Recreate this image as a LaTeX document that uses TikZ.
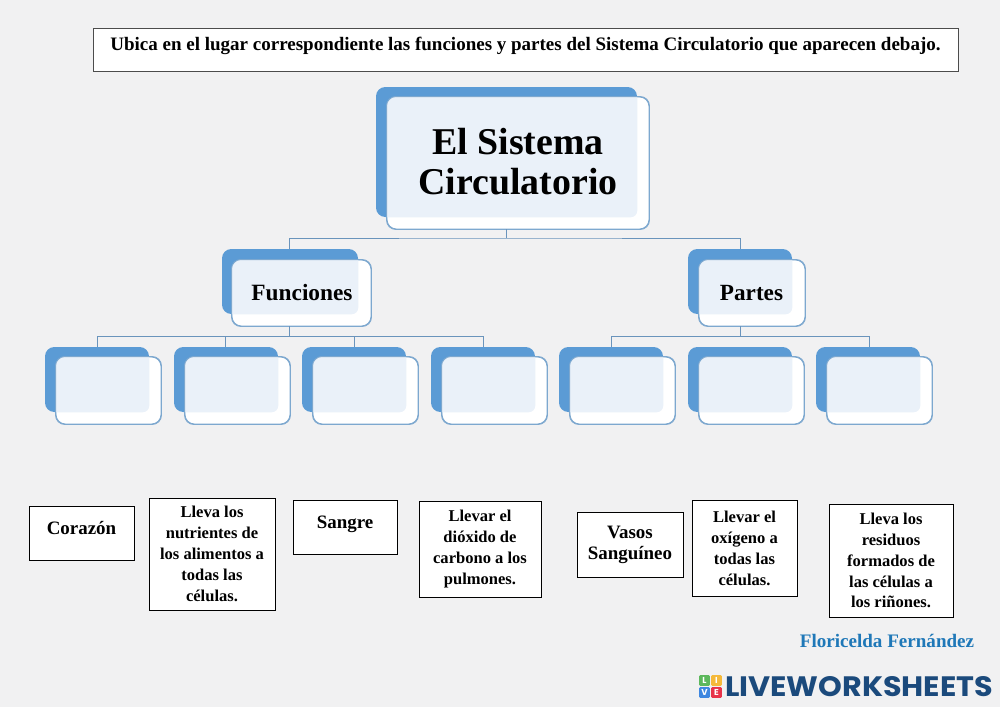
\documentclass[tikz,border=0pt]{standalone}
\usepackage{fontspec}
\setmainfont{Liberation Serif}
\newfontfamily\logofont{Poppins}
\usetikzlibrary{calc}
\definecolor{pagebg}{HTML}{F1F1F2}
\definecolor{backblue}{HTML}{5B9BD5}
\definecolor{frontline}{HTML}{7DA8CF}
\definecolor{overlap}{HTML}{EAF1F9}
\definecolor{linkblue}{HTML}{6A94BC}
\definecolor{signblue}{HTML}{1F78B8}
\definecolor{logoblue}{HTML}{1B4A7C}
\definecolor{tilegreen}{HTML}{5DB85C}
\definecolor{tileyellow}{HTML}{F5B93A}
\definecolor{tileblue}{HTML}{3F87E0}
\definecolor{tilered}{HTML}{E8334A}
\tikzset{
  x=0.75pt,y=-0.75pt,
  backbox/.style={rectangle,rounded corners=7pt,fill=backblue,inner sep=0pt},
  frontbox/.style={rectangle,rounded corners=7pt,draw=frontline,line width=0.7pt,fill=white,inner sep=0pt},
  frontedge/.style={rounded corners=7pt,draw=frontline,line width=0.7pt},
  link/.style={draw=linkblue,line width=0.7pt},
  paperbox/.style={rectangle,draw=black,line width=0.7pt,fill=white,inner sep=0pt,align=center,font=\bfseries\fontsize{12.4pt}{15.7pt}\selectfont},
  logotile/.style={rectangle,rounded corners=1pt,inner sep=0pt,minimum size=8.2pt,text=white,font=\logofont\bfseries\fontsize{6.5pt}{6.5pt}\selectfont},
}
% name, back x0,y0,x1,y1, front x0,y0,x1,y1
\newcommand{\orgbox}[9]{%
  \node[backbox,minimum width={((#4)-(#2))*0.75pt},minimum height={((#5)-(#3))*0.75pt}] (#1b) at ({((#2)+(#4))/2},{((#3)+(#5))/2}) {};
  \node[frontbox,minimum width={((#8)-(#6))*0.75pt},minimum height={((#9)-(#7))*0.75pt}] (#1) at ({((#6)+(#8))/2},{((#7)+(#9))/2}) {};
  \begin{scope}
    \clip[rounded corners=7pt] (#1.south west) rectangle (#1.north east);
    \fill[overlap,rounded corners=5pt] (#1b.south west) rectangle (#1b.north east);
  \end{scope}
  \path[frontedge] (#1.south west) rectangle (#1.north east);
}
\newcommand{\smallorg}[2]{\orgbox{#1}{#2}{347}{#2+104}{412}{#2+11}{357}{#2+116}{424}}
\newcommand{\paperb}[6]{\node[paperbox,minimum width={((#4)-(#2))*0.75pt},minimum height={((#5)-(#3))*0.75pt}] (#1) at ({((#2)+(#4))/2},{((#3)+(#5))/2}) {#6};}
\begin{document}
\begin{tikzpicture}
\useasboundingbox[fill=pagebg] (0,0) rectangle (1000,707);
% instruction
\node[rectangle,draw=black!70,line width=0.7pt,fill=white,inner sep=0pt,minimum width={865*0.75pt},minimum height={43*0.75pt}] (instr) at (525.5,49.5) {};
\node[font=\bfseries\fontsize{14.25pt}{16pt}\selectfont,anchor=center] (instrtext) at (525.5,45.5) {Ubica en el lugar correspondiente las funciones y partes del Sistema Circulatorio que aparecen debajo.};
% connector coordinates
\coordinate (busT) at (506,238);
\coordinate (busF) at (289,336);
\coordinate (busP) at (740,336);
% connectors
\orgbox{top}{376}{87}{637}{217}{387}{97}{649}{229}
\orgbox{fun}{222}{249}{358}{314}{232}{260}{371}{326}
\orgbox{par}{688}{249}{792}{314}{699}{260}{805}{326}
\smallorg{fa}{45}
\smallorg{fb}{174}
\smallorg{fc}{302}
\smallorg{fd}{431}
\smallorg{pa}{559}
\smallorg{pb}{688}
\smallorg{pc}{816}
\path[link] (top.south -| busT) -- (busT);
\path[link] (funb.north -| busF) -- (busF |- busT) -- (busT) -- (busT -| busP) -- (parb.north -| busP);
\path[link] (fun.south -| busF) -- (busF);
\path[link] (par.south -| busP) -- (busP);
\path[link] (fab.north -| 97,0) -- (97,336) -- (483,336) -- (fdb.north -| 483,0);
\path[link] (225.5,336) -- (fbb.north -| 225.5,0);
\path[link] (354,336) -- (fcb.north -| 354,0);
\path[link] (pab.north -| 611,0) -- (611,336) -- (869,336) -- (pcb.north -| 869,0);
% titles
\node[font=\bfseries\fontsize{28.4pt}{30pt}\selectfont,align=center] (toptext) at (518,162) {El Sistema\\Circulatorio};
\node[font=\bfseries\fontsize{17.5pt}{18pt}\selectfont] (funtext) at (302,293) {Funciones};
\node[font=\bfseries\fontsize{17.4pt}{18pt}\selectfont] (partext) at (751.5,293) {Partes};
% answers
\paperb{a1}{29}{506}{134}{560}{\raisebox{7pt}{\fontsize{14.2pt}{16pt}\selectfont Corazón}}
\paperb{a2}{149}{498}{275}{610}{Lleva los\\nutrientes de\\los alimentos a\\todas las\\células.}
\paperb{a3}{293}{500}{397}{554}{\raisebox{7pt}{\fontsize{14.2pt}{16pt}\selectfont Sangre}}
\paperb{a4}{419}{501}{541}{597}{Llevar el\\dióxido de\\carbono a los\\pulmones.}
\paperb{a5}{577}{512}{683}{577}{\fontsize{14.2pt}{17.3pt}\selectfont Vasos\\\fontsize{14.2pt}{17.3pt}\selectfont Sanguíneo}
\paperb{a6}{692}{500}{797}{596}{Llevar el\\oxígeno a\\todas las\\células.}
\paperb{a7}{829}{504}{953}{617}{Lleva los\\residuos\\formados de\\las células a\\los riñones.}
% signature
\node[font=\bfseries\fontsize{14.3pt}{16pt}\selectfont,text=signblue] (sign) at (887,641) {Floricelda Fernández};
% logo
\node[logotile,fill=tilegreen] (tl) at (704.5,680.5) {L};
\node[logotile,fill=tileyellow] (ti) at (716.5,680.5) {I};
\node[logotile,fill=tileblue] (tv) at (704.5,692.5) {V};
\node[logotile,fill=tilered] (te) at (716.5,692.5) {E};
\node[inner sep=0pt,font=\logofont\bfseries\fontsize{22pt}{24pt}\selectfont,text=logoblue] (logo) at (859,687) {\resizebox{201pt}{15pt}{LIVEWORKSHEETS}};
\end{tikzpicture}
\end{document}
